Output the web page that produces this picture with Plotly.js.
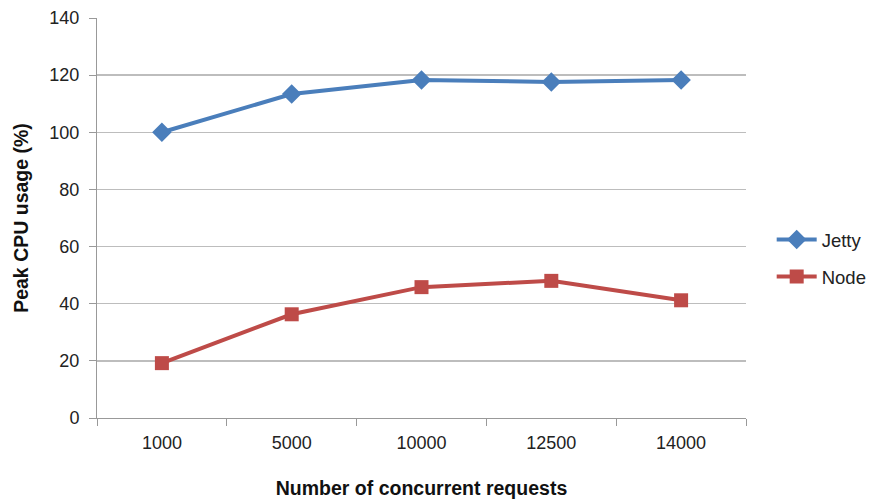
<!DOCTYPE html>
<html>
<head>
<meta charset="utf-8">
<script src="https://cdn.plot.ly/plotly-3.0.1.min.js"></script>
<style>html,body{margin:0;padding:0;background:#fff;}#chart{width:870px;height:499px;}</style>
</head>
<body>
<div id="chart"></div>
<script>
const categories = ["1000", "5000", "10000", "12500", "14000"];
const jetty = [100, 113.4, 118.3, 117.6, 118.3];
const node = [19.2, 36.3, 45.8, 48.0, 41.2];
const seriesNames = ["Jetty", "Node"];
const yTicks = [0, 20, 40, 60, 80, 100, 120, 140];

const traces = [
  {x: categories, y: jetty, name: seriesNames[0], legendgroup: "g1", type: "scatter", mode: "lines+markers",
   line: {color: "#4a7ebb", width: 4}, marker: {symbol: "diamond", size: 15, color: "#4a7ebb"}},
  {x: categories, y: node, name: seriesNames[1], legendgroup: "g2", type: "scatter", mode: "lines+markers",
   line: {color: "#be4b48", width: 4}, marker: {symbol: "square", size: 14, color: "#be4b48"}}
];

const layout = {
  width: 870, height: 499,
  margin: {l: 97, r: 124, t: 18, b: 81},
  paper_bgcolor: "#fff", plot_bgcolor: "#fff",
  font: {family: "Liberation Sans, Arial, sans-serif", size: 18, color: "#222"},
  showlegend: true,
  legend: {xref: "container", yref: "container", x: 0.887, y: 0.482, xanchor: "left", yanchor: "middle",
           font: {size: 18.5, color: "#222"},
           tracegroupgap: 10, itemwidth: 40, bgcolor: "rgba(0,0,0,0)"},
  xaxis: {
    type: "category", range: [-0.5, 4.5], tickson: "boundaries",
    ticks: "outside", ticklen: 7, tickcolor: "#999", showline: true, linecolor: "#999", linewidth: 1,
    showgrid: false, zeroline: false, ticklabelstandoff: 8,
    title: {text: "Number of concurrent requests", font: {size: 19.5, color: "#111", weight: "bold"}, standoff: 29}
  },
  yaxis: {
    range: [0, 140], tickvals: yTicks, ticks: "outside", ticklen: 7, tickcolor: "#999",
    showline: true, linecolor: "#999", linewidth: 1, gridcolor: "#bdbdbd", gridwidth: 1.5, zeroline: false,
    ticklabelstandoff: 6,
    title: {text: "Peak CPU usage (%)", font: {size: 19.5, color: "#111", weight: "bold"}, standoff: 15}
  }
};

Plotly.newPlot("chart", traces, layout, {displayModeBar: false, staticPlot: true});
</script>
</body>
</html>
